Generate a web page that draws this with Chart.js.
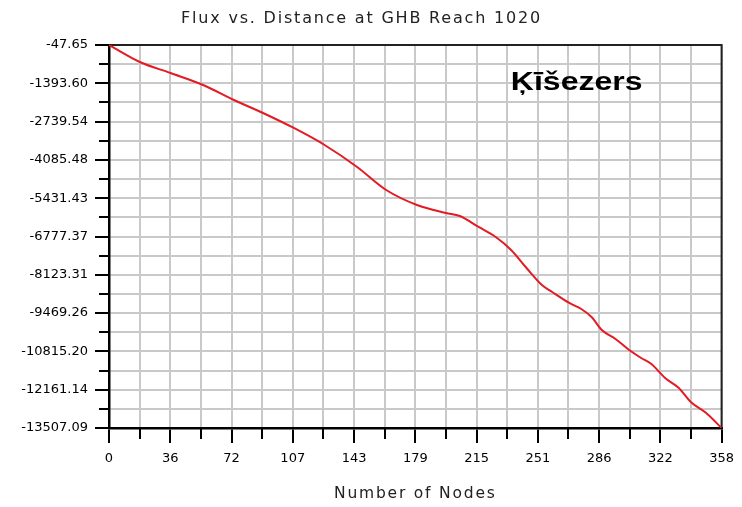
<!DOCTYPE html>
<html><head><meta charset="utf-8">
<script src="https://cdn.jsdelivr.net/npm/chart.js@4.4.1/dist/chart.umd.min.js"></script>
<style>html,body{margin:0;padding:0;background:#fff}</style>
</head><body>
<canvas id="c" width="742" height="507"></canvas>
<script>
const chartTitle = 'Flux vs. Distance at GHB Reach 1020';
const xAxisTitle = 'Number of Nodes';
const seriesLabel = 'Ķīšezers';

const nodes = [0, 18, 36, 55, 73, 90, 108, 126, 145, 162, 180, 197, 205, 216, 226, 235, 244, 253, 259, 269, 276, 282, 288, 296, 304, 311, 317, 325, 333, 340, 349, 358];
const flux = [-47.65, -645, -1032, -1453, -1980, -2437, -2964, -3562, -4335, -5143, -5670, -5951, -6057, -6443, -6795, -7251, -7884, -8481, -8727, -9114, -9325, -9606, -10063, -10379, -10766, -11047, -11258, -11750, -12101, -12593, -12979, -13507.09];

const xTickLabels = ['0', '36', '72', '107', '143', '179', '215', '251', '286', '322', '358'];
const yTickLabels = ['-47.65', '-1393.60', '-2739.54', '-4085.48', '-5431.43', '-6777.37', '-8123.31', '-9469.26', '-10815.20', '-12161.14', '-13507.09'];

const xMin = 0, xMax = 358;
const yMax = parseFloat(yTickLabels[0]);
const yMin = parseFloat(yTickLabels[yTickLabels.length - 1]);

// major + minor (halfway) tick values
const xMajor = xTickLabels.map((_, i) => xMin + i * (xMax - xMin) / (xTickLabels.length - 1));
const yMajor = yTickLabels.map(s => parseFloat(s));
function withMinor(major) {
  const out = [];
  for (let i = 0; i < major.length; i++) {
    out.push(major[i]);
    if (i < major.length - 1) out.push((major[i] + major[i + 1]) / 2);
  }
  return out;
}
const xTickValues = withMinor(xMajor);
const yTickValues = withMinor(yMajor);

const tickFont = { family: 'DejaVu Sans', size: 13 };

// wide spacing for the title texts (grid layer and title box), reset before the datasets / tick labels
const spacingPlugin = {
  id: 'spacing',
  beforeDraw(chart) { chart.ctx.letterSpacing = '1.8px'; },
  beforeDatasetsDraw(chart) { chart.ctx.letterSpacing = '0px'; }
};

const framePlugin = {
  id: 'frame',
  beforeDatasetsDraw(chart) {
    const { ctx, chartArea: a } = chart;
    ctx.save();
    ctx.strokeStyle = '#222';
    ctx.lineWidth = 2;
    ctx.beginPath();
    ctx.moveTo(a.left, a.top);
    ctx.lineTo(a.right, a.top);
    ctx.lineTo(a.right, a.bottom);
    ctx.stroke();
    ctx.restore();
  }
};

const minorTickPlugin = {
  id: 'minorTicks',
  afterDraw(chart) {
    const { ctx, chartArea: a } = chart;
    const xs = chart.scales.x, ys = chart.scales.y;
    ctx.save();
    ctx.strokeStyle = '#000';
    ctx.lineWidth = 2;
    ctx.beginPath();
    xTickValues.forEach((v, i) => {
      if (i % 2 === 1) {
        const p = Math.round(xs.getPixelForValue(v));
        ctx.moveTo(p, a.bottom);
        ctx.lineTo(p, a.bottom + 11);
      }
    });
    yTickValues.forEach((v, i) => {
      if (i % 2 === 1) {
        const p = Math.round(ys.getPixelForValue(v));
        ctx.moveTo(a.left - 10, p);
        ctx.lineTo(a.left, p);
      }
    });
    ctx.stroke();
    ctx.restore();
  }
};

const labelPlugin = {
  id: 'seriesLabel',
  afterDraw(chart) {
    const { ctx, chartArea: a } = chart;
    ctx.save();
    ctx.letterSpacing = '0px';
    ctx.font = 'bold 25px "Liberation Sans", Arial, sans-serif';
    ctx.fillStyle = '#000';
    ctx.textBaseline = 'alphabetic';
    ctx.textAlign = 'left';
    ctx.translate(a.left + 0.656 * (a.right - a.left), a.top + 0.1175 * (a.bottom - a.top));
    ctx.scale(1.28, 1);
    ctx.fillText(seriesLabel, 0, 0);
    ctx.restore();
  }
};

new Chart(document.getElementById('c'), {
  type: 'line',
  data: {
    datasets: [{
      label: seriesLabel,
      data: nodes.map((n, i) => ({ x: n, y: flux[i] })),
      borderColor: '#e31b24',
      borderWidth: 2,
      pointRadius: 0,
      cubicInterpolationMode: 'monotone',
      fill: false
    }]
  },
  options: {
    responsive: false,
    animation: false,
    layout: { padding: { left: 0, right: 19, top: 0, bottom: 0 } },
    plugins: {
      legend: { display: false },
      tooltip: { enabled: false },
      title: {
        display: true,
        text: chartTitle,
        color: '#222',
        font: { family: 'DejaVu Sans', size: 16, weight: 'normal' },
        padding: { top: 9.5, bottom: 16.3 }
      }
    },
    scales: {
      x: {
        type: 'linear',
        min: xMin, max: xMax,
        afterBuildTicks(s) { s.ticks = xTickValues.map(v => ({ value: v })); },
        afterFit(s) { s.height = 79; },
        ticks: {
          z: 1,
          autoSkip: false, maxRotation: 0, minRotation: 0,
          padding: 8, color: '#000', font: tickFont,
          callback: (v, i) => (i % 2 === 0 ? xTickLabels[i / 2] : '')
        },
        grid: {
          color: '#c9c9c9', lineWidth: 2, tickLength: 15, tickWidth: 2,
          tickColor: c => (c.index % 2 === 0 ? '#000' : 'rgba(0,0,0,0)')
        },
        border: { color: '#000', width: 2.5 },
        title: {
          display: true, text: xAxisTitle, color: '#222',
          font: { family: 'DejaVu Sans', size: 15.5 },
          padding: { top: 17, bottom: 4 }
        }
      },
      y: {
        type: 'linear',
        min: yMin, max: yMax,
        afterBuildTicks(s) { s.ticks = yTickValues.map(v => ({ value: v })); },
        afterFit(s) { s.width = 109; },
        ticks: {
          z: 1,
          autoSkip: false, padding: 7, color: '#000', font: tickFont,
          callback: (v, i) => (i % 2 === 0 ? yTickLabels[i / 2] : '')
        },
        grid: {
          color: '#c9c9c9', lineWidth: 2, tickLength: 14, tickWidth: 2,
          tickColor: c => (c.index % 2 === 0 ? '#000' : 'rgba(0,0,0,0)')
        },
        border: { color: '#000', width: 2.5 }
      }
    }
  },
  plugins: [spacingPlugin, framePlugin, minorTickPlugin, labelPlugin]
});
</script>
</body></html>
